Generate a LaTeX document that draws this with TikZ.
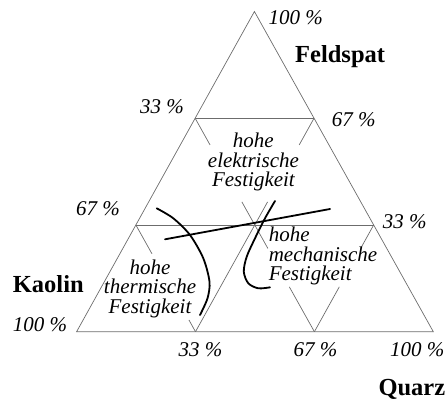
\documentclass[tikz,border=0pt]{standalone}
\usepackage{fontspec}
\setmainfont{Liberation Serif}
\usetikzlibrary{calc}

\begin{document}
\begin{tikzpicture}[x=1pt,y=-1pt,
    grid/.style={gray!85!black, line width=0.7pt},
    curve/.style={black, line width=1.8pt, line cap=round},
    pct/.style={anchor=base west, inner sep=0pt, font=\fontsize{21}{19.5}\selectfont\itshape},
    comp/.style={anchor=base west, inner sep=0pt, font=\fontsize{24.5}{28}\selectfont\bfseries},
    area/.style={inner sep=0pt, font=\fontsize{21}{19.5}\selectfont\itshape}]
  \useasboundingbox (0,0) rectangle (447,400);
  % corners of the triangle
  \coordinate (A) at (254.4,11.5);
  \coordinate (BL) at (76.6,331.7);
  \coordinate (BR) at (433.3,331.7);
  \coordinate (L1) at ($(A)!1/3!(BL)$);
  \coordinate (L2) at ($(A)!2/3!(BL)$);
  \coordinate (R1) at ($(A)!1/3!(BR)$);
  \coordinate (R2) at ($(A)!2/3!(BR)$);
  \coordinate (B1) at ($(BL)!1/3!(BR)$);
  \coordinate (B2) at ($(BL)!2/3!(BR)$);
  \draw[grid] (A) -- (BL) -- (BR) -- cycle;
  \draw[grid] (L1) -- (R1) (L2) -- (R2);
  \foreach \p/\q/\s/\e in {L1/B2/0/0.125, L1/B2/0.392/0.61, L1/B2/0.79/1,
      R1/B1/0/0.125, R1/B1/0.392/1, L2/B1/0/0.27, L2/B1/0.89/1,
      R2/B2/0/0.22, R2/B2/0.58/1}
    \draw[grid] ($(\p)!\s!(\q)$) -- ($(\p)!\e!(\q)$);
  % fields
  \node[area, align=center] (elek) at (253.4,162.4) {hohe\\elektrische\\Festigkeit};
  \node[area, align=center] (therm) at (150,288.9) {hohe\\thermische\\Festigkeit};
  \node[area, align=left, anchor=west] (mech) at (268.6,256) {hohe\\mechanische\\Festigkeit};
  % boundaries
  \draw[curve] plot[smooth] coordinates {(156.7,208.3) (173.3,218.3) (190,235) (203.3,258.3)
      (209.5,281.7) (207.5,298.3) (200,315)};
  \draw[curve] (165,239.3) -- (330,209);
  \draw[curve] plot[smooth] coordinates {(275,201) (265,218.3) (255,238.3) (246.7,256.7)
      (243.8,271.7) (248.3,283.3) (258.3,288.3) (270,287.3)};
  % scales
  \node[pct] (f100) at (268.3,24) {100 \%};
  \node[pct] (f33) at (140,113.3) {33 \%};
  \node[pct] (f67) at (331.7,126) {67 \%};
  \node[pct] (k67) at (76,215) {67 \%};
  \node[pct] (q33) at (382.7,228.3) {33 \%};
  \node[pct] (k100) at (12.7,331) {100 \%};
  \node[pct] (b33) at (178.3,356.7) {33 \%};
  \node[pct] (b67) at (293.3,356.7) {67 \%};
  \node[pct] (b100) at (390,356.7) {100 \%};
  \node[comp] (feld) at (295,62.7) {Feldspat};
  \node[comp] (kaol) at (12.7,292.7) {Kaolin};
  \node[comp] (quarz) at (378.3,395) {Quarz};
\end{tikzpicture}
\end{document}
